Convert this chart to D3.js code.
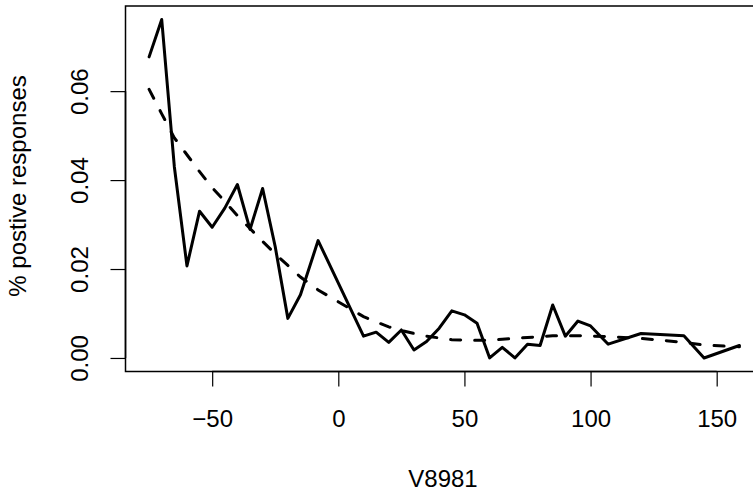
<!DOCTYPE html>
<html>
<head>
<meta charset="utf-8">
<script src="https://cdn.jsdelivr.net/npm/d3@7"></script>
<style>
  body { margin: 0; background: #fff; }
  svg { display: block; }
  text { font-family: "Liberation Sans", Arial, Helvetica, sans-serif; fill: #000; }
</style>
</head>
<body>
<script>

// data
var xValues = [-75, -70, -65, -60, -55, -50, -45, -40, -35, -30, -25, -20, -15, -8,
	10, 15, 20, 25, 30, 35, 40, 45, 50, 55, 60, 65, 70, 75, 80, 85, 90, 95, 100,
	107, 120, 137, 145, 159];

var observed = [0.0677, 0.0761, 0.0430, 0.0207, 0.0330, 0.0294, 0.0337, 0.0390, 0.0289, 0.0381,
	0.0250, 0.0089, 0.0142, 0.0264, 0.0049, 0.0058, 0.0035, 0.0063, 0.0018, 0.0037,
	0.0067, 0.0106, 0.0097, 0.0078, 0.0000, 0.0024, 0.0000, 0.0031, 0.0028, 0.0119,
	0.0049, 0.0083, 0.0072, 0.0031, 0.0055, 0.0050, 0.0000, 0.0028];

var fitted = [0.0604, 0.0549, 0.0495, 0.0457, 0.0419, 0.0383, 0.0352, 0.0320, 0.0291, 0.0262,
	0.0234, 0.0208, 0.0182, 0.0153, 0.0093, 0.0081, 0.0070, 0.0062, 0.0055, 0.0049,
	0.0045, 0.0041, 0.0040, 0.0040, 0.0040, 0.0042, 0.0044, 0.0046, 0.0048, 0.0050,
	0.0050, 0.0050, 0.0049, 0.0048, 0.0044, 0.0035, 0.0029, 0.0025];

var xTicks = [-50, 0, 50, 100, 150];
var yTicks = [0, 0.02, 0.04, 0.06];

var xTitle = "V8981";
var yTitle = "% postive responses";

var width = 753, height = 491;
var plot = { left: 125.5, right: 763, top: 6, bottom: 371.5 };
var fontSize = 24;

var svg = d3.select("body").append("svg")
	.attr("width", width)
	.attr("height", height);

// R style 4% padding on both axes
var xExt = d3.extent(xValues);
var xPad = (xExt[1] - xExt[0]) * 0.04;
var yMax = d3.max(observed.concat(fitted));
var yMin = d3.min(observed.concat(fitted));
var yPad = (yMax - yMin) * 0.04;

var x = d3.scaleLinear()
	.domain([xExt[0] - xPad, xExt[1] + xPad])
	.range([plot.left, plot.right]);

var y = d3.scaleLinear()
	.domain([yMin - yPad, yMax + yPad])
	.range([plot.bottom, plot.top]);

var rows = xValues.map(function (v, i) {
	return { x: v, obs: observed[i], fit: fitted[i] };
});

// Lines

var lineObs = d3.line()
	.x(function (d) { return x(d.x); })
	.y(function (d) { return y(d.obs); });

var lineFit = d3.line()
	.x(function (d) { return x(d.x); })
	.y(function (d) { return y(d.fit); });

svg.append("path")
	.datum(rows)
	.attr("d", lineObs)
	.attr("fill", "none")
	.attr("stroke", "#000")
	.attr("stroke-width", 3)
	.attr("stroke-linejoin", "round")
	.attr("stroke-linecap", "round");

svg.append("path")
	.datum(rows)
	.attr("d", lineFit)
	.attr("fill", "none")
	.attr("stroke", "#000")
	.attr("stroke-width", 3)
	.attr("stroke-dasharray", "10,14")
	.attr("stroke-linecap", "round");

// Box

svg.append("rect")
	.attr("x", plot.left)
	.attr("y", plot.top)
	.attr("width", plot.right - plot.left)
	.attr("height", plot.bottom - plot.top)
	.attr("fill", "none")
	.attr("stroke", "#000")
	.attr("stroke-width", 1.5);

// Axes

var xAxis = d3.axisBottom(x)
	.tickValues(xTicks)
	.tickSize(15)
	.tickPadding(23.5)
	.tickFormat(function (d) { return d < 0 ? "\u2212" + Math.abs(d) : d; });

var gx = svg.append("g")
	.attr("transform", "translate(0," + plot.bottom + ")")
	.call(xAxis);

gx.select(".domain")
	.attr("d", "M" + x(xTicks[0]) + ",0H" + x(xTicks[xTicks.length - 1]))
	.attr("stroke-width", 1.5);
gx.selectAll(".tick line").attr("stroke-width", 1.2);
gx.selectAll("text")
	.attr("font-size", fontSize)
	.attr("font-family", "'Liberation Sans', Arial, sans-serif");

var yAxis = d3.axisLeft(y)
	.tickValues(yTicks)
	.tickSize(15)
	.tickFormat(d3.format(".2f"));

var gy = svg.append("g")
	.attr("transform", "translate(" + plot.left + ",0)")
	.call(yAxis);

gy.select(".domain")
	.attr("d", "M0," + y(yTicks[0]) + "V" + y(yTicks[yTicks.length - 1]))
	.attr("stroke-width", 1.5);
gy.selectAll(".tick line").attr("stroke-width", 1.2);
gy.selectAll("text")
	.attr("x", null)
	.attr("dy", null)
	.attr("text-anchor", "middle")
	.attr("transform", "translate(-37.5,0) rotate(-90)")
	.attr("font-size", fontSize)
	.attr("font-family", "'Liberation Sans', Arial, sans-serif");

// Titles

svg.append("text")
	.attr("x", 443)
	.attr("y", 487)
	.attr("text-anchor", "middle")
	.attr("font-size", fontSize)
	.text(xTitle);

svg.append("text")
	.attr("transform", "translate(26,186) rotate(-90)")
	.attr("text-anchor", "middle")
	.attr("font-size", fontSize)
	.text(yTitle);

</script>
</body>
</html>
